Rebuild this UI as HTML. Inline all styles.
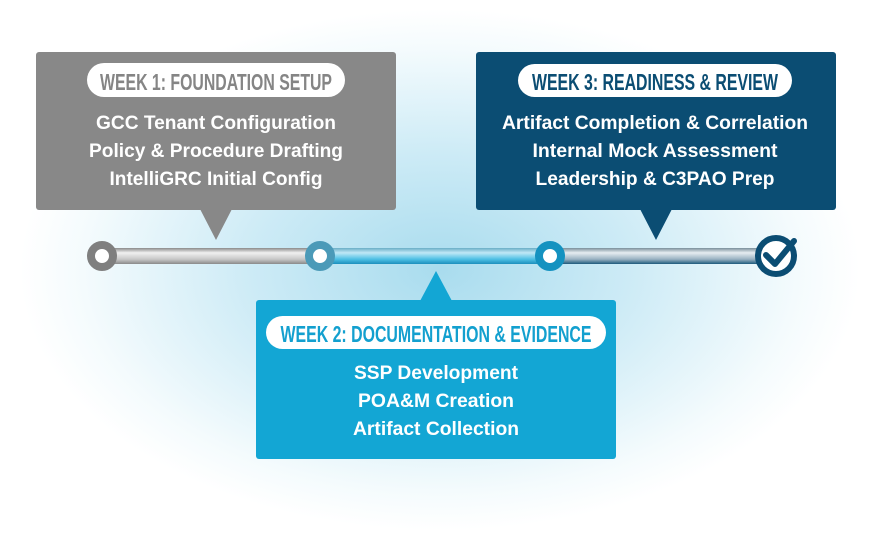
<!DOCTYPE html>
<html><head><meta charset="utf-8"><style>
html,body{margin:0;padding:0;background:#fff}
svg{display:block}
</style></head><body>
<svg width="876" height="533" viewBox="0 0 876 533" xmlns="http://www.w3.org/2000/svg">
<defs>
<radialGradient id="bg" cx="440" cy="270" r="420" gradientUnits="userSpaceOnUse" gradientTransform="translate(440 270) scale(1 0.62) translate(-440 -270)">
<stop offset="0" stop-color="#a9dcee"/><stop offset="0.45" stop-color="#cdebf6"/><stop offset="0.85" stop-color="#f4fbfd"/><stop offset="1" stop-color="#ffffff"/>
</radialGradient>
<linearGradient id="g1" x1="0" y1="0" x2="0" y2="1"><stop offset="0" stop-color="#8a8a8a"/><stop offset="0.3" stop-color="#f0f0f0"/><stop offset="0.7" stop-color="#c8c8c8"/><stop offset="1" stop-color="#8a8a8a"/></linearGradient>
<linearGradient id="g2" x1="0" y1="0" x2="0" y2="1"><stop offset="0" stop-color="#6aaec6"/><stop offset="0.3" stop-color="#bfe8f6"/><stop offset="0.7" stop-color="#4ec0e4"/><stop offset="1" stop-color="#1c8fbd"/></linearGradient>
<linearGradient id="g3" x1="0" y1="0" x2="0" y2="1"><stop offset="0" stop-color="#7a8f9b"/><stop offset="0.3" stop-color="#e6edf1"/><stop offset="0.7" stop-color="#9ab2c2"/><stop offset="1" stop-color="#1d5a7c"/></linearGradient>
</defs>
<rect width="876" height="533" fill="url(#bg)"/>
<!-- track -->
<rect x="102" y="248" width="218" height="16" fill="url(#g1)"/>
<rect x="320" y="248" width="230" height="16" fill="url(#g2)"/>
<rect x="550" y="248" width="227" height="16" fill="url(#g3)"/>
<circle cx="102" cy="256" r="11" fill="#fff" stroke="#7f7f7f" stroke-width="8"/>
<circle cx="320" cy="256" r="11" fill="#fff" stroke="#4b9ab8" stroke-width="8"/>
<circle cx="550" cy="256" r="11" fill="#fff" stroke="#1492c0" stroke-width="8"/>
<circle cx="776" cy="256" r="18" fill="#fff" stroke="#0b4d73" stroke-width="6"/>
<path d="M766 255 L775 264 L794 241" fill="none" stroke="#0b4d73" stroke-width="6" stroke-linecap="round" stroke-linejoin="round"/>
<!-- box1 -->
<rect x="36" y="52" width="360" height="158" rx="3" fill="#888888"/>
<polygon points="200,209 232,209 216,240" fill="#888888"/>
<rect x="87" y="63" width="258" height="34" rx="17" fill="#fff"/>
<g font-family="Liberation Sans, sans-serif" font-weight="bold">
<text x="216" y="90" font-size="23" fill="#858585" text-anchor="middle" textLength="232" lengthAdjust="spacingAndGlyphs">WEEK 1: FOUNDATION SETUP</text>
<g fill="#fff" font-size="19" text-anchor="middle">
<text x="216" y="129" textLength="240" lengthAdjust="spacingAndGlyphs">GCC Tenant Configuration</text>
<text x="216" y="157" textLength="254" lengthAdjust="spacingAndGlyphs">Policy &amp; Procedure Drafting</text>
<text x="216" y="185" textLength="213" lengthAdjust="spacingAndGlyphs">IntelliGRC Initial Config</text>
</g>
</g>
<!-- box3 -->
<rect x="476" y="52" width="360" height="158" rx="3" fill="#0b4d73"/>
<polygon points="640,209 672,209 656,240" fill="#0b4d73"/>
<rect x="518" y="64" width="274" height="33" rx="16.5" fill="#fff"/>
<g font-family="Liberation Sans, sans-serif" font-weight="bold">
<text x="655" y="90" font-size="23" fill="#0b4d73" text-anchor="middle" textLength="246" lengthAdjust="spacingAndGlyphs">WEEK 3: READINESS &amp; REVIEW</text>
<g fill="#fff" font-size="19" text-anchor="middle">
<text x="655" y="129" textLength="306" lengthAdjust="spacingAndGlyphs">Artifact Completion &amp; Correlation</text>
<text x="655" y="157" textLength="245" lengthAdjust="spacingAndGlyphs">Internal Mock Assessment</text>
<text x="655" y="185" textLength="239" lengthAdjust="spacingAndGlyphs">Leadership &amp; C3PAO Prep</text>
</g>
</g>
<!-- box2 -->
<rect x="256" y="300" width="360" height="159" rx="3" fill="#13a6d4"/>
<polygon points="420,301 452,301 436,271" fill="#13a6d4"/>
<rect x="266" y="316" width="340" height="33" rx="16.5" fill="#fff"/>
<g font-family="Liberation Sans, sans-serif" font-weight="bold">
<text x="436" y="342" font-size="23" fill="#13a0cf" text-anchor="middle" textLength="311" lengthAdjust="spacingAndGlyphs">WEEK 2: DOCUMENTATION &amp; EVIDENCE</text>
<g fill="#fff" font-size="19" text-anchor="middle">
<text x="436" y="379" textLength="164" lengthAdjust="spacingAndGlyphs">SSP Development</text>
<text x="436" y="407" textLength="156" lengthAdjust="spacingAndGlyphs">POA&amp;M Creation</text>
<text x="436" y="435" textLength="166" lengthAdjust="spacingAndGlyphs">Artifact Collection</text>
</g>
</g>
</svg>
</body></html>
